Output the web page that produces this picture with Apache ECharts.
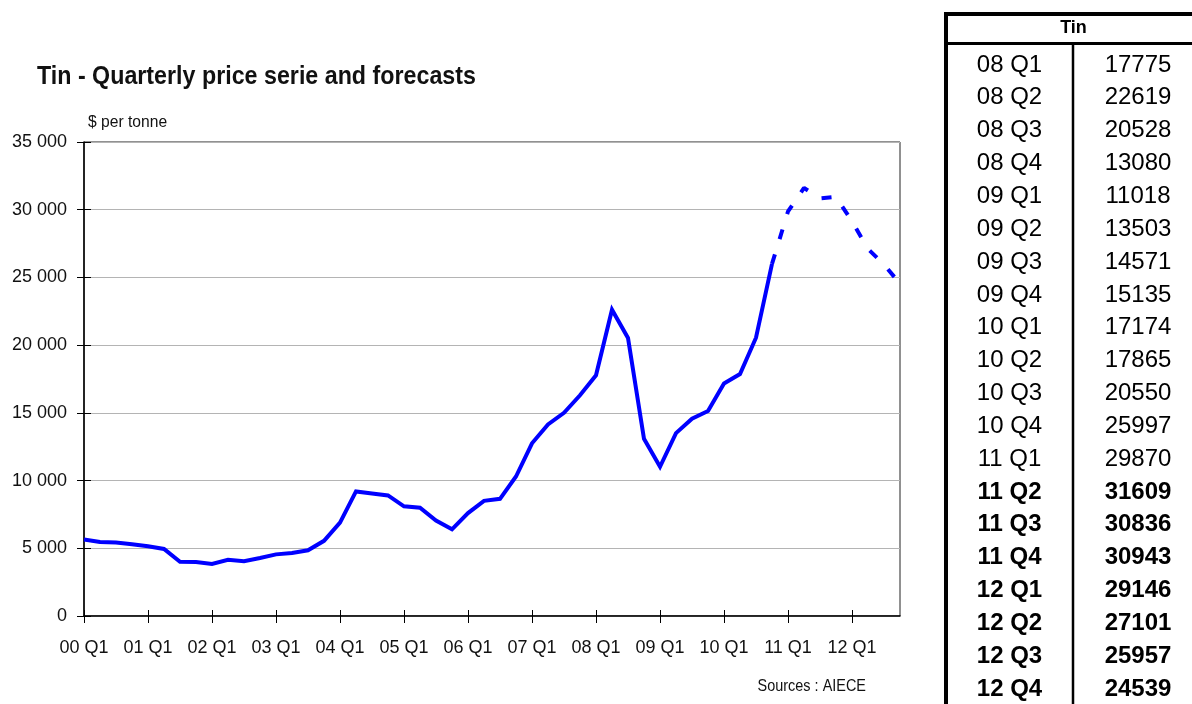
<!DOCTYPE html>
<html>
<head>
<meta charset="utf-8">
<title>Tin - Quarterly price serie and forecasts</title>
<script src="https://cdn.jsdelivr.net/npm/echarts@6/dist/echarts.min.js"></script>
<style>
  html, body { margin: 0; padding: 0; background: #fff; }
  #chart { width: 1192px; height: 704px; }
</style>
</head>
<body>
<div id="chart"></div>
<script>
// Years and quarters that make up the category axis (00 Q1 ... 12 Q4)
const years = ['00', '01', '02', '03', '04', '05', '06', '07', '08', '09', '10', '11', '12'];
const quarters = ['Q1', 'Q2', 'Q3', 'Q4'];

// Quarterly tin price, $ per tonne, one value per quarter from 00 Q1 to 12 Q4
const price = [
  5650, 5460, 5420, 5300,      // 2000
  5150, 4950, 4000, 3990,      // 2001
  3840, 4150, 4050, 4280,      // 2002
  4550, 4650, 4850, 5550,      // 2003
  6900, 9200, 9050, 8900,      // 2004
  8100, 8000, 7050, 6400,      // 2005
  7600, 8500, 8650, 10300,     // 2006
  12750, 14150, 15000, 16300,  // 2007
  17775, 22619, 20528, 13080,  // 2008
  11018, 13503, 14571, 15135,  // 2009
  17174, 17865, 20550, 25997,  // 2010
  29870, 31609, 30836, 30943,  // 2011
  29146, 27101, 25957, 24539   // 2012
];

// The dashed part of the curve starts at this quarter
const dashFrom = '10 Q4';
// Quarters shown in the side table, and the first one printed in bold
const tableFrom = '08 Q1';
const boldFrom = '11 Q2';
const tableTitle = 'Tin';

const yTicks = { min: 0, max: 35000, step: 5000 };

const categories = [];
years.forEach(y => quarters.forEach(q => categories.push(y + ' ' + q)));

const dashIdx = categories.indexOf(dashFrom);
const solidData = price.map((v, i) => (i <= dashIdx ? v : null));
const dashData = price.map((v, i) => (i >= dashIdx ? v : null));

const sans = '"Liberation Sans", Arial, sans-serif';

const spaced = v => String(v).replace(/\B(?=(\d{3})+(?!\d))/g, ' ');

// Side table built as graphic elements
const tStart = categories.indexOf(tableFrom);
const tBold = categories.indexOf(boldFrom);
const tableLeft = 946, tableDiv = 1073, tableRight = 1201;
const rowTop = 65, rowStep = 32.84;
const graphics = [];
graphics.push({ type: 'line', shape: { x1: tableLeft, y1: 12, x2: tableLeft, y2: 704 }, style: { stroke: '#000', lineWidth: 4 } });
graphics.push({ type: 'line', shape: { x1: tableLeft - 2, y1: 14, x2: 1192, y2: 14 }, style: { stroke: '#000', lineWidth: 4 } });
graphics.push({ type: 'line', shape: { x1: tableLeft, y1: 43.5, x2: 1192, y2: 43.5 }, style: { stroke: '#000', lineWidth: 3 } });
graphics.push({ type: 'line', shape: { x1: tableDiv, y1: 44, x2: tableDiv, y2: 704 }, style: { stroke: '#000', lineWidth: 2.5 } });
graphics.push({
  type: 'text', x: (tableLeft + tableRight) / 2, y: 28,
  style: { text: tableTitle, font: 'bold 18px ' + sans, fill: '#000', textAlign: 'center', textVerticalAlign: 'middle' }
});
for (let i = tStart; i < categories.length; i++) {
  const r = i - tStart;
  const weight = i >= tBold ? 'bold ' : '';
  const yy = rowTop + r * rowStep;
  graphics.push({
    type: 'text', x: (tableLeft + tableDiv) / 2, y: yy,
    style: { text: categories[i], font: weight + '24px ' + sans, fill: '#000', textAlign: 'center', textVerticalAlign: 'middle' }
  });
  graphics.push({
    type: 'text', x: (tableDiv + tableRight) / 2 + 1, y: yy,
    style: { text: String(price[i]), font: weight + '24px ' + sans, fill: '#000', textAlign: 'center', textVerticalAlign: 'middle' }
  });
}
// Titles and notes around the plot (condensed horizontally)
graphics.push({
  type: 'text', x: 37, y: 77, scaleX: 0.93,
  style: { text: 'Tin - Quarterly price serie and forecasts', font: 'bold 25px ' + sans, fill: '#111', textAlign: 'left', textVerticalAlign: 'middle' }
});
graphics.push({
  type: 'text', x: 88, y: 122, scaleX: 0.92,
  style: { text: '$ per tonne', font: '17px ' + sans, fill: '#111', textAlign: 'left', textVerticalAlign: 'middle' }
});
graphics.push({
  type: 'text', x: 866, y: 686, scaleX: 0.85,
  style: { text: 'Sources : AIECE', font: '17px ' + sans, fill: '#111', textAlign: 'right', textVerticalAlign: 'middle' }
});

const chart = echarts.init(document.getElementById('chart'), null, { renderer: 'canvas' });
chart.setOption({
  animation: false,
  backgroundColor: '#fff',
  grid: { left: 84, right: 292, top: 142, bottom: 88, show: true, borderColor: '#222', borderWidth: 1 },
  xAxis: [
    {
      type: 'category', data: categories, boundaryGap: false, position: 'bottom',
      axisLine: { lineStyle: { color: '#000', width: 1.5 } },
      axisTick: { interval: 3, length: 7, lineStyle: { color: '#000', width: 1 } },
      axisLabel: { interval: 3, color: '#111', fontFamily: sans, fontSize: 18, margin: 23 },
      splitLine: { show: false }
    },
    {
      type: 'category', data: categories, boundaryGap: false, position: 'bottom',
      axisLine: { show: false },
      axisTick: { inside: true, interval: 3, length: 6, lineStyle: { color: '#000', width: 1 } },
      axisLabel: { show: false },
      splitLine: { show: false }
    }
  ],
  yAxis: [
    {
      type: 'value', min: yTicks.min, max: yTicks.max, interval: yTicks.step, position: 'left',
      axisLine: { show: true, lineStyle: { color: '#000', width: 1.5 } },
      axisTick: { show: true, length: 7, lineStyle: { color: '#000', width: 1 } },
      axisLabel: { color: '#111', fontFamily: sans, fontSize: 18, margin: 17, formatter: spaced },
      splitLine: { show: true, lineStyle: { color: '#b4b4b4', width: 1 } }
    },
    {
      type: 'value', min: yTicks.min, max: yTicks.max, interval: yTicks.step, position: 'left',
      axisLine: { show: false },
      axisTick: { show: true, inside: true, length: 7, lineStyle: { color: '#000', width: 1 } },
      axisLabel: { show: false },
      splitLine: { show: false }
    }
  ],
  series: [
    {
      name: 'Tin', type: 'line', data: solidData, showSymbol: false, symbol: 'none',
      lineStyle: { color: '#0000ff', width: 4, join: 'miter', cap: 'butt' }
    },
    {
      name: 'Tin forecast', type: 'line', data: dashData, showSymbol: false, symbol: 'none',
      lineStyle: { color: '#0000ff', width: 4, type: [10, 16], cap: 'butt' }
    }
  ],
  graphic: graphics
});
</script>
</body>
</html>
